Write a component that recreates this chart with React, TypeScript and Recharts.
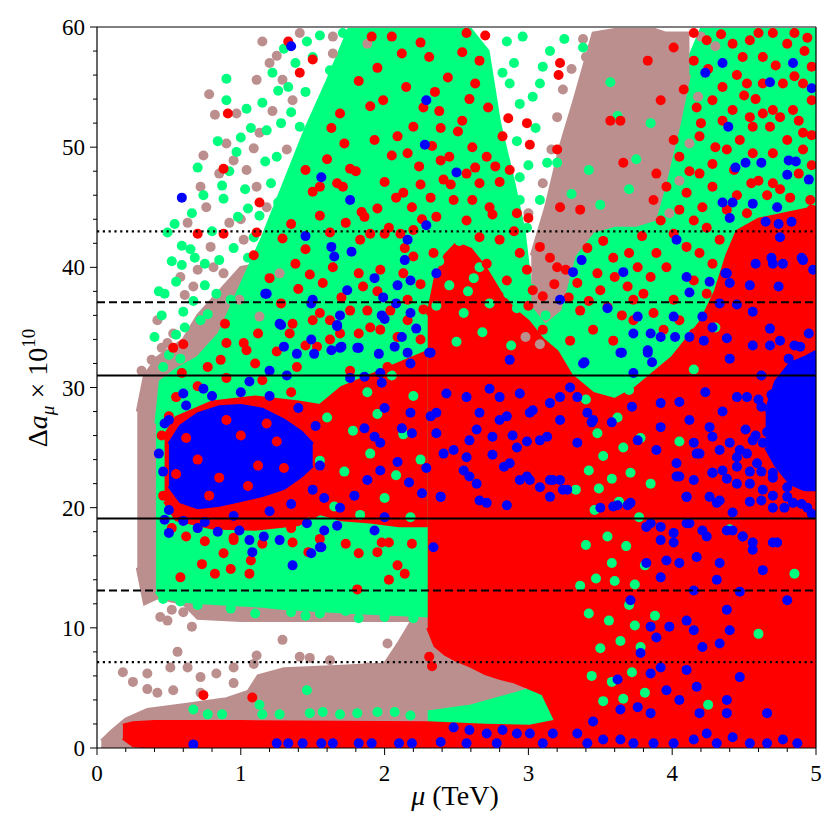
import React from 'react';
import { ComposedChart, Area, Scatter, XAxis, YAxis, ReferenceLine, Label } from 'recharts';

const BROWN = '#bc8f8f';
const GREEN = '#00ff7f';
const RED = '#ff0000';
const BLUE = '#0000ff';
const FONT = "'Liberation Serif', 'DejaVu Serif', serif";

const xTicks = [0, 0.2, 0.4, 0.6, 0.8, 1, 1.2, 1.4, 1.6, 1.8, 2, 2.2, 2.4, 2.6, 2.8, 3, 3.2, 3.4, 3.6, 3.8, 4, 4.2, 4.4, 4.6, 4.8, 5];
const yTicks = [0, 2, 4, 6, 8, 10, 12, 14, 16, 18, 20, 22, 24, 26, 28, 30, 32, 34, 36, 38, 40, 42, 44, 46, 48, 50, 52, 54, 56, 58, 60];

// measured band of Delta a_mu: 1, 2 and 3 sigma
const solidLevels = [31.0, 19.1];
const dashedLevels = [37.1, 13.1];
const dottedLevels = [43.0, 7.15];

// dense regions: [mu, low, high]
const brownLow = [[0.03, 0, 0.6], [0.1, 0, 1.4], [0.2, 0, 2.4], [0.35, 0, 3.2], [0.6, 0, 3.6], [0.9, 0, 4.1], [1.05, 0, 4.7], [1.12, 0, 6.0], [1.3, 0, 6.6], [1.7, 0, 6.8], [2.0, 0, 7.0], [2.1, 0, 8.8], [2.2, 0, 10.8], [2.3, 0, 12], [2.45, 0, 11], [2.6, 0, 8.5], [2.8, 0, 6.5], [3.0, 0, 4.6], [3.2, 0, 2.2]];
const brownLeft = [[0.28, 15, 28], [0.33, 12, 31], [0.42, 12.5, 32.5], [0.6, 12, 34], [0.7, 10.8, 36], [1.0, 10.6, 40], [2.0, 10.6, 42], [2.3, 10.6, 40]];
const brownTop = [[3.02, 37, 41], [3.12, 35.5, 45], [3.22, 36.5, 50], [3.32, 41, 54], [3.45, 43, 59.5], [3.6, 43.5, 59.8], [3.75, 43.5, 59.8], [3.88, 44, 59.8], [3.95, 47, 59.5], [4.05, 52, 59.5], [4.12, 56, 59.5]];
const greenMain = [[0.41, 13, 27], [0.44, 12.6, 30.5], [0.55, 12.3, 31.5], [0.7, 12.1, 32.5], [0.85, 12, 34.5], [1.0, 11.9, 38.5], [1.15, 11.8, 42.5], [1.3, 11.6, 47], [1.45, 11.5, 51.5], [1.6, 11.4, 55.5], [1.75, 11.3, 59.8], [2.3, 11, 59.8], [2.45, 30, 59.8], [2.6, 30, 59.8], [2.72, 30, 58], [2.8, 30, 52], [2.9, 30, 47], [2.97, 30, 43], [3.02, 30, 38]];
const greenLowMid = [[2.3, 1.5, 3], [2.6, 1.5, 3.5], [2.9, 1.5, 4.5], [3.1, 1.5, 5.2], [3.3, 1.5, 5.5]];
const greenRight = [[3.0, 25, 38], [3.15, 4, 40], [3.3, 3.5, 42], [3.45, 3.5, 44], [3.6, 3.5, 45], [3.75, 4, 45], [3.88, 5, 46], [3.95, 6, 49], [4.05, 10, 54], [4.12, 14, 57.5], [4.2, 18, 59.8], [5.0, 25, 59.8]];
const redLow = [[0.18, 0.8, 1.9], [0.25, 0.2, 2.1], [0.4, 0, 2.2], [1.0, 0, 2.2], [2.3, 0, 2.1], [2.7, 0, 1.9], [3.0, 0, 1.8], [3.3, 0, 2.5], [3.6, 0, 3.0], [3.85, 0, 4]];
const redMain = [[2.3, 10, 36], [2.35, 8.5, 39], [2.42, 7.8, 41], [2.5, 7.3, 42], [2.6, 6.8, 41.5], [2.7, 6.2, 40], [2.8, 5.8, 38], [2.9, 5.5, 36.5], [3.0, 5, 35.5], [3.1, 4.5, 34], [3.2, 2, 33], [3.3, 0, 31], [3.45, 0, 29.5], [3.6, 0, 29], [3.75, 0, 30], [3.85, 0, 31], [4.0, 0, 32.5], [4.1, 0, 34], [4.2, 0, 35.5], [4.3, 0, 38], [4.38, 0, 41], [4.45, 0, 43], [4.6, 0, 44], [4.8, 0, 44.5], [5.0, 0, 45]];
const redLeft = [[0.47, 20.5, 26], [0.55, 19, 27.5], [0.8, 18.3, 28.8], [1.1, 18.2, 29.2], [1.4, 18.6, 28.8], [1.55, 19.5, 28.5], [1.7, 19, 30], [1.9, 18.8, 31], [2.1, 18.5, 32], [2.3, 18.5, 33]];
const blueLeft = [[0.5, 21.8, 25.3], [0.58, 20.5, 26.8], [0.7, 20, 27.8], [0.85, 20.2, 28.4], [1.0, 20.6, 28.5], [1.15, 21, 28.2], [1.3, 21.6, 27.3], [1.42, 22.6, 26.3], [1.5, 23.5, 25.3]];
const blueRight = [[4.65, 25, 28], [4.72, 23.5, 30.5], [4.82, 22, 32], [4.92, 21.5, 32.5], [5.0, 21.5, 33]];

// individual points: [mu, delta a_mu]
const brownPoints = [[0.82, 52.7], [0.97, 52.8], [0.74, 49.3], [0.95, 48.9], [1.04, 48.1], [0.72, 46.7], [0.76, 45], [0.92, 43.7], [0.63, 43.7], [0.79, 41.7], [0.81, 40], [0.88, 39.5], [0.67, 38.4], [0.61, 37.7], [0.42, 35.6], [0.53, 34.5], [0.49, 33.7], [0.38, 32.3], [0.31, 31.4], [1.11, 46.7], [1.18, 45], [1.09, 49.9], [1.13, 51.2], [1.2, 57], [1.11, 55.6], [1.29, 55.6], [1.36, 53.9], [1.41, 59.5], [1.64, 57.8], [1.64, 59.2], [1.88, 58.6], [1.27, 39.5], [0.99, 37.3], [1.13, 35.9], [0.44, 10.9], [0.49, 10.6], [0.66, 10.1], [0.56, 8.0], [1.29, 9.0], [1.11, 7.7], [2.02, 8.7], [2.11, 8.4], [0.18, 6.3], [0.25, 5.5], [0.35, 6.2], [0.51, 6.7], [0.63, 6.7], [0.72, 5.9], [0.83, 6.2], [0.95, 5.4], [0.42, 4.6], [0.53, 4.8], [0.72, 4.6], [0.35, 4.9], [1.41, 7.6], [1.48, 7.5], [1.62, 7.3], [1.88, 6.7], [0.95, 6.7], [1.09, 7.0], [0.52, 11.5], [0.6, 11.3], [3.0, 44.5], [3.1, 47], [3.2, 52.5], [3.3, 56.5], [3.38, 59], [2.98, 34.2], [3.08, 33.6], [4.2, 59.2], [4.3, 58.4], [3.98, 44.5], [4.05, 47.2], [4.12, 50.3], [4.18, 54.2], [3.24, 54.8], [3.16, 49.8], [0.9, 50.3], [1.0, 44.0], [0.85, 47.8], [1.02, 42.3], [0.7, 39.8], [0.58, 39.2], [0.45, 33.3], [1.15, 58.8], [1.25, 57.6], [1.32, 49.8], [1.22, 53.0], [0.78, 54.4], [3.28, 50.8], [3.35, 53.0], [3.15, 42.5], [3.4, 57.5]];
const greenPoints = [[0.49, 42.9], [0.54, 43.6], [0.66, 44.5], [0.74, 46.0], [0.87, 46.8], [0.88, 45.7], [0.97, 49.6], [1.18, 51.4], [1.25, 49.2], [1.35, 52.9], [1.26, 54.7], [1.33, 55.0], [1.41, 51.7], [0.9, 55.7], [0.9, 53.9], [1.04, 53.2], [0.59, 41.8], [0.59, 40.2], [0.68, 40.8], [0.75, 40.3], [0.75, 38.5], [0.55, 38.8], [0.43, 38.0], [0.47, 37.8], [0.6, 36.3], [0.67, 37.2], [0.72, 35.6], [0.77, 36.1], [0.61, 35.0], [0.55, 34.4], [0.5, 32.7], [0.58, 32.4], [0.46, 31.7], [0.83, 37.8], [0.93, 37.3], [0.99, 35.6], [0.93, 34.5], [1.02, 34.5], [1.09, 38.4], [1.05, 40.8], [1.09, 42.5], [1.13, 44.3], [1.21, 47.0], [1.26, 45.4], [1.62, 56.4], [1.71, 59.5], [1.5, 57.5], [2.82, 56.2], [2.87, 55.3], [3.03, 54.2], [2.94, 53.6], [2.96, 59.2], [3.1, 56.7], [3.38, 58.3], [3.08, 55.3], [3.13, 48.7], [3.2, 48.7], [2.92, 50.5], [2.87, 45.0], [2.94, 45.6], [2.99, 43.3], [2.94, 47.5], [3.08, 45.6], [0.67, 3.2], [0.77, 2.8], [1.13, 3.6], [1.15, 2.8], [1.27, 2.8], [1.46, 4.8], [1.48, 2.9], [1.57, 3.0], [1.69, 2.8], [1.81, 2.9], [1.95, 3.0], [2.07, 3.0], [2.18, 2.7], [0.87, 2.8], [0.46, 12.4], [0.58, 12.2], [0.7, 11.9], [0.93, 11.6], [1.1, 11.2], [1.35, 11.3], [1.45, 11.0], [1.55, 11.2], [1.73, 11.4], [1.82, 10.8], [2.0, 10.9], [2.2, 10.8], [3.5, 45.2], [3.42, 48.1], [3.62, 52.6], [3.3, 46.1], [3.75, 49.0], [3.57, 55.4], [3.7, 46.5], [3.85, 52.0], [0.98, 44.2], [1.03, 46.5], [1.07, 51.6], [1.15, 53.7], [1.22, 56.2], [1.3, 58.2], [1.38, 57.0], [1.45, 54.6], [1.05, 44.9], [0.95, 41.6], [0.85, 40.6], [0.8, 43.0], [0.92, 48.0], [1.17, 48.8], [1.0, 50.8], [1.28, 52.0], [0.84, 50.5], [1.46, 58.8], [1.55, 59.3], [0.7, 48.3], [0.65, 41.5], [0.52, 40.5], [0.45, 36.0], [0.4, 34.2], [2.85, 58.8], [2.9, 57.0], [3.0, 48.5], [3.05, 51.6], [3.15, 58.0], [3.25, 59.0]];
const greenGaps = [[3.4, 29.0], [3.55, 31.5], [3.7, 29.8], [3.48, 26.2], [3.62, 27.5], [3.78, 25.8], [3.42, 23.1], [3.58, 22.4], [3.52, 24.3], [3.71, 22.9], [3.46, 19.8], [3.63, 20.5], [3.77, 19.2], [3.4, 16.9], [3.55, 17.6], [3.68, 16.8], [3.81, 15.2], [3.47, 14.1], [3.6, 13.9], [3.74, 13.6], [3.42, 11.2], [3.56, 10.6], [3.7, 11.9], [3.64, 8.9], [3.5, 8.3], [3.78, 8.4], [3.44, 6.0], [3.58, 5.5], [3.72, 6.3], [3.52, 3.9], [3.66, 4.1], [3.81, 4.6], [3.33, 21.5], [3.36, 13.5], [3.85, 22.0], [3.88, 11.0], [3.58, 15.4], [3.66, 25.0], [3.49, 21.6], [3.74, 10.2], [2.36, 36.8], [2.45, 38.5], [2.55, 36.2], [2.62, 39.1], [2.73, 37.0], [2.84, 39.4], [2.92, 36.6], [3.02, 38.2], [3.12, 36.0], [2.5, 33.8], [2.68, 34.6], [2.88, 33.5], [3.2, 33.8], [2.38, 40.5], [2.52, 42.2], [2.66, 40.0], [2.8, 41.2], [2.58, 38.0], [2.43, 43.8], [2.7, 43.0], [2.86, 37.8], [1.52, 30.5], [1.7, 31.2], [1.88, 29.6], [2.05, 31.0], [2.2, 29.3], [1.6, 27.5], [1.78, 26.4], [1.95, 27.8], [2.13, 26.1], [1.55, 23.9], [1.72, 23.0], [1.9, 24.5], [2.08, 22.7], [2.25, 24.0], [1.65, 20.1], [1.83, 19.4], [2.0, 20.8], [2.18, 19.2], [1.5, 19.0], [4.05, 25.5], [4.4, 18.2], [4.6, 9.5], [4.25, 3.6], [4.85, 14.5], [4.15, 31.5], [4.3, 35.0]];
const redPoints = [[1.33, 58.8], [1.5, 57.3], [1.41, 56.2], [0.91, 52.8], [0.88, 48.2], [0.7, 42.8], [0.88, 42.8], [1.11, 42.9], [1.09, 41.0], [1.13, 45.4], [1.29, 42.4], [1.35, 43.6], [1.45, 48.1], [1.5, 46.3], [1.63, 51.6], [1.69, 52.8], [1.9, 53.4], [1.99, 53.9], [2.09, 50.9], [2.12, 57.8], [1.91, 59.2], [2.16, 49.5], [1.76, 48.2], [1.8, 48.0], [1.67, 47.0], [1.71, 46.7], [1.55, 46.7], [2.0, 47.1], [2.13, 46.2], [2.19, 45.0], [1.84, 44.6], [1.86, 44.2], [2.03, 43.3], [2.11, 42.8], [2.2, 43.1], [2.0, 42.8], [2.14, 41.6], [1.83, 42.3], [1.9, 42.8], [2.2, 40.9], [1.48, 39.4], [1.64, 40.0], [1.82, 39.5], [1.97, 39.8], [2.13, 39.5], [1.57, 38.7], [1.85, 38.4], [1.2, 39.1], [2.16, 37.3], [2.04, 36.4], [1.88, 36.4], [1.76, 36.4], [1.55, 36.2], [1.5, 35.6], [1.62, 35.6], [1.36, 35.3], [2.16, 35.6], [1.69, 34.5], [1.82, 34.5], [1.97, 34.8], [2.09, 34.2], [1.34, 34.5], [1.53, 33.4], [1.02, 33.7], [1.04, 33.1], [0.9, 33.7], [0.53, 33.3], [0.6, 33.6], [1.12, 34.5], [0.86, 32.3], [1.39, 31.7], [1.76, 31.4], [2.02, 31.7], [2.19, 31.4], [0.77, 31.7], [0.59, 31.2], [0.89, 35.3], [1.55, 44.3], [1.62, 42.9], [1.73, 43.7], [1.95, 44.9], [2.08, 45.8], [2.25, 46.9], [2.26, 44.0], [2.24, 48.4], [2.05, 49.3], [1.93, 50.6], [2.2, 51.7], [2.27, 53.3], [2.15, 55.0], [1.82, 55.5], [1.95, 56.6], [2.25, 58.7], [2.05, 59.2], [1.72, 50.3], [1.6, 49.0], [1.45, 41.5], [1.38, 40.3], [1.7, 37.5], [1.95, 38.0], [2.25, 38.6], [2.27, 36.5], [2.25, 34.0], [1.9, 35.0], [1.62, 34.0], [1.45, 33.5], [1.25, 33.0], [1.1, 32.0], [1.28, 37.0], [1.4, 38.2], [2.57, 59.5], [2.7, 59.3], [3.22, 57.0], [3.21, 56.0], [2.54, 57.9], [2.66, 57.2], [2.35, 54.6], [2.59, 54.0], [2.72, 53.3], [2.86, 52.4], [2.54, 52.2], [2.39, 51.6], [2.51, 51.3], [2.61, 50.0], [2.71, 49.2], [2.82, 50.9], [2.99, 52.0], [3.01, 50.2], [2.45, 49.2], [2.39, 48.9], [2.41, 47.3], [2.57, 47.8], [2.66, 47.0], [2.8, 47.1], [2.87, 48.1], [2.32, 45.8], [2.48, 45.6], [2.61, 45.6], [2.73, 45.0], [2.92, 44.5], [3.0, 44.1], [2.36, 44.2], [2.57, 43.9], [2.66, 42.5], [2.8, 42.3], [2.94, 41.2], [3.08, 41.7], [3.15, 40.8], [3.41, 41.6], [3.59, 40.8], [3.76, 40.0], [2.34, 41.2], [2.71, 40.3], [2.85, 38.9], [2.99, 39.8], [3.03, 38.1], [3.2, 40.0], [3.34, 38.7], [3.5, 38.1], [3.69, 38.4], [3.85, 39.2], [3.96, 40.0], [3.36, 36.4], [3.55, 36.7], [3.73, 37.3], [3.87, 36.2], [4.01, 37.3], [2.94, 35.6], [3.1, 34.8], [3.29, 33.9], [3.45, 34.8], [3.59, 33.9], [3.73, 35.6], [3.94, 34.8], [4.05, 35.6], [4.15, 34.5], [4.24, 37.8], [4.15, 38.9], [4.28, 40.3], [4.19, 41.2], [4.1, 41.7], [4.01, 42.8], [3.89, 41.2], [4.24, 43.3], [4.33, 42.3], [4.15, 43.9], [4.05, 44.8], [3.92, 43.9], [3.87, 45.6], [3.96, 46.7], [4.1, 46.2], [4.21, 45.0], [4.28, 46.7], [4.19, 47.8], [4.05, 49.2], [3.89, 47.8], [4.01, 50.6], [4.19, 50.9], [4.38, 49.8], [4.47, 50.6], [4.56, 51.7], [4.68, 51.7], [4.8, 50.6], [4.91, 51.2], [4.91, 49.8], [4.7, 49.5], [4.56, 49.5], [4.84, 53.1], [4.7, 53.1], [4.54, 52.5], [4.42, 53.1], [4.28, 53.9], [4.17, 53.3], [4.52, 55.3], [4.63, 55.3], [4.77, 55.3], [4.91, 55.3], [4.49, 57.5], [4.63, 57.5], [4.8, 58.6], [4.94, 59.1], [4.7, 59.5], [4.54, 58.9], [4.42, 58.6], [4.24, 58.9], [4.15, 59.5], [4.01, 58.3], [3.92, 53.9], [3.83, 57.2], [3.64, 52.2], [3.57, 52.2], [3.66, 48.7], [3.36, 44.8], [3.22, 45.0], [3.2, 49.8], [4.96, 45.6], [4.97, 53.9], [4.97, 56.7], [4.6, 47.2], [4.75, 46.5], [4.88, 47.8], [4.45, 46.0], [4.25, 56.5], [4.35, 55.0], [4.45, 56.0], [4.58, 54.0], [4.72, 56.8], [4.85, 55.9], [4.92, 58.0], [4.88, 52.2], [4.75, 52.5], [4.63, 52.8], [4.5, 54.3], [4.35, 52.2], [4.3, 50.0], [4.43, 48.1], [4.55, 47.0], [4.7, 47.0], [4.82, 45.8], [4.66, 46.0], [4.52, 44.5], [4.38, 44.8], [4.28, 48.6], [4.12, 48.0], [4.2, 52.0], [4.08, 54.8], [4.15, 57.2], [4.34, 59.4], [4.6, 59.5], [4.85, 59.5], [4.97, 51.0], [4.97, 48.5], [4.97, 44.8], [3.1, 37.6], [3.0, 36.8], [3.18, 38.6], [3.26, 39.8], [3.28, 37.5], [3.42, 37.2], [3.48, 39.5], [3.6, 39.2], [3.65, 36.0], [3.8, 37.8], [3.7, 41.2], [3.52, 42.2], [3.79, 42.6], [2.9, 43.0], [2.75, 44.4], [2.77, 48.4], [2.33, 50.1], [2.63, 48.3], [2.46, 46.9], [2.38, 53.0], [2.63, 55.3], [2.44, 55.8], [2.31, 57.5], [0.73, 15.3], [0.82, 14.5], [0.58, 14.2], [0.88, 16.2], [0.93, 14.9], [1.06, 14.5], [1.07, 15.6], [0.95, 17.5], [1.36, 17.1], [1.47, 16.3], [1.55, 17.4], [1.73, 17.0], [1.82, 16.2], [1.95, 16.3], [2.03, 14.0], [1.81, 13.2], [2.09, 15.2], [2.19, 17.0], [1.98, 17.1], [2.03, 17.1], [2.14, 14.5], [0.46, 21], [0.45, 26], [0.5, 27.6], [0.52, 18.3], [0.62, 17.6], [0.75, 17.2], [0.95, 17.3], [1.15, 17.0], [1.35, 18.3], [1.5, 19.5], [1.55, 22], [1.58, 25.5], [1.5, 28], [1.35, 29.6], [1.15, 30.6], [0.9, 30.8], [0.7, 30.1], [0.55, 29.2], [0.74, 4.4], [1.08, 4.2], [2.33, 6.8], [2.31, 7.6]];
const redSpecks = [[0.7, 24], [0.85, 22.5], [1.0, 26], [1.12, 23.5], [0.62, 25.8], [0.9, 27.3], [1.25, 25.5], [0.78, 21], [1.05, 21.8], [1.3, 23.3], [0.55, 22.8], [1.18, 27.0]];
const bluePoints = [[2.36, 26.2], [2.48, 24.8], [2.64, 26.5], [2.8, 27.3], [2.92, 25.0], [3.01, 27.9], [3.13, 25.9], [3.22, 27.3], [3.34, 25.4], [3.45, 27.3], [2.59, 22.6], [2.83, 23.4], [2.99, 22.6], [2.66, 20.6], [2.39, 20.9], [3.17, 22.3], [3.24, 21.5], [3.71, 20.4], [3.59, 20.1], [3.89, 24.8], [4.03, 22.6], [4.17, 24.5], [4.28, 22.9], [4.47, 24.8], [4.54, 22.0], [4.63, 25.4], [4.1, 20.9], [4.33, 20.6], [4.45, 23.4], [4.7, 22.9], [4.8, 20.9], [4.91, 22.0], [3.82, 18.4], [3.92, 17.3], [4.01, 17.1], [4.1, 18.7], [4.24, 17.6], [4.42, 18.1], [4.49, 17.6], [4.56, 16.5], [4.73, 17.1], [3.96, 15.6], [3.82, 15.4], [4.05, 15.4], [4.17, 15.9], [4.33, 15.4], [4.63, 14.8], [3.92, 14.2], [4.31, 14.0], [4.47, 13.0], [4.15, 13.1], [4.8, 12.3], [3.71, 12.3], [4.38, 11.5], [3.85, 10.1], [3.98, 10.1], [4.1, 10.6], [4.15, 9.8], [4.21, 8.4], [4.33, 8.7], [4.4, 9.8], [3.89, 9.2], [3.78, 7.9], [3.85, 6.2], [3.92, 6.7], [4.1, 6.5], [4.17, 5.1], [3.96, 4.8], [4.05, 4.0], [3.62, 5.7], [3.64, 3.2], [3.76, 3.4], [3.85, 2.9], [4.38, 4.0], [4.47, 5.9], [4.38, 2.9], [4.66, 2.9], [4.19, 2.9], [3.45, 2.2], [3.34, 1.2], [3.41, 0.4], [3.52, 0.7], [3.64, 0.7], [3.73, 0.4], [3.87, 0.4], [4.01, 0.4], [4.15, 0.7], [4.24, 1.2], [4.31, 0.4], [4.42, 0.9], [4.54, 0.4], [4.66, 0.4], [4.77, 0.7], [4.87, 0.4], [2.48, 1.7], [2.59, 1.5], [2.71, 1.2], [2.82, 1.5], [2.92, 1.2], [3.01, 1.2], [2.39, 0.5], [2.57, 0.4], [2.78, 0.4], [3.1, 0.4], [3.17, 1.2], [0.67, 0.3], [1.25, 0.4], [1.33, 0.4], [1.43, 0.4], [1.56, 0.4], [1.64, 0.4], [1.82, 0.4], [1.91, 0.4], [2.1, 0.4], [2.19, 0.4], [3.92, 28.7], [4.05, 28.8], [4.12, 27.3], [4.23, 29.6], [4.35, 28.0], [4.45, 29.2], [4.52, 29.2], [4.62, 28.4], [4.69, 29.4], [4.26, 26.7], [4.28, 25.9], [4.4, 25.4], [4.51, 26.5], [4.56, 25.6], [4.66, 26.3], [4.15, 25.4], [4.19, 24.5], [4.33, 24.8], [4.45, 24.2], [4.52, 24.5], [4.59, 23.7], [4.7, 24.8], [4.03, 23.7], [4.05, 22.6], [4.15, 22.3], [4.28, 22.9], [4.35, 23.1], [4.38, 22.4], [4.45, 22.0], [4.54, 23.0], [4.63, 21.5], [4.7, 22.5], [4.8, 21.7], [4.1, 20.9], [4.26, 20.9], [4.31, 20.4], [4.42, 19.6], [4.54, 20.5], [4.62, 20.6], [4.7, 20.0], [4.84, 20.4], [4.94, 20.0], [3.92, 18.4], [4.01, 17.9], [4.12, 18.7], [4.21, 18.1], [4.38, 18.1], [4.49, 17.6], [4.56, 17.1], [4.7, 17.1], [3.85, 18.7], [2.57, 29.2], [2.73, 29.9], [2.8, 29.2], [2.66, 27.9], [2.85, 27.6], [2.94, 29.5], [3.03, 28.1], [3.15, 28.7], [3.22, 29.2], [3.29, 30.0], [3.34, 29.2], [2.59, 25.6], [2.75, 25.9], [2.89, 26.0], [2.99, 25.5], [3.08, 25.6], [2.57, 24.2], [2.75, 24.4], [2.87, 23.7], [2.55, 23.1], [2.64, 22.0], [2.71, 20.4], [2.85, 20.2], [2.94, 22.3], [3.01, 22.3], [3.08, 21.7], [3.15, 22.3], [3.22, 22.3], [3.27, 21.5], [3.15, 20.9], [3.5, 20.0], [3.62, 20.2], [3.69, 20.2], [3.76, 25.6], [3.92, 26.7], [3.58, 27.1], [3.44, 27.1], [3.72, 28.4], [3.41, 27.9], [2.87, 32.3], [3.31, 39.6], [3.22, 37.3], [3.55, 36.6], [3.66, 39.6], [3.76, 35.9], [3.73, 34.5], [3.85, 34.5], [3.92, 34.2], [3.83, 33.1], [3.86, 32.1], [4.02, 34.2], [4.1, 39.2], [4.12, 37.9], [4.26, 38.8], [4.4, 38.7], [4.38, 39.5], [4.54, 38.5], [4.7, 40.3], [4.77, 40.3], [4.91, 40.6], [4.74, 38.4], [4.56, 36.3], [4.45, 36.9], [4.33, 37.0], [4.01, 35.9], [4.21, 35.9], [4.28, 35.0], [4.12, 34.2], [4.22, 33.9], [4.38, 34.1], [4.68, 34.9], [4.75, 33.9], [4.89, 33.4], [4.56, 33.5], [4.4, 32.4], [4.81, 32.4], [3.38, 32.0], [3.65, 32.9], [3.73, 31.2], [0.59, 45.8], [1.45, 42.6], [1.63, 41.7], [1.65, 40.9], [1.18, 37.8], [1.49, 37.0], [1.74, 38.1], [1.93, 39.1], [2.09, 38.5], [2.16, 42.3], [2.14, 40.6], [1.77, 41.3], [1.99, 37.5], [2.08, 37.0], [1.28, 35.2], [1.67, 35.2], [1.49, 34.0], [2.0, 35.7], [2.18, 32.0], [1.3, 33.4], [1.39, 32.8], [1.51, 32.8], [1.7, 33.4], [1.81, 33.3], [1.56, 47.5], [1.76, 45.6], [1.35, 58.4], [1.97, 31.2], [2.29, 53.9], [2.28, 50.2], [2.5, 47.9], [2.29, 43.5], [2.36, 39.5], [3.37, 40.6], [2.32, 32.9], [3.39, 32.1], [3.64, 32.9], [3.83, 32.9], [4.03, 42.3], [4.35, 57.0], [4.23, 56.2], [4.68, 55.4], [4.84, 57.0], [4.97, 54.9], [4.39, 51.7], [4.51, 48.7], [4.62, 48.7], [4.81, 48.9], [4.86, 48.8], [4.95, 47.3], [4.8, 47.7], [4.44, 48.3], [4.35, 45.4], [4.42, 45.4], [4.56, 45.3], [4.4, 44.1], [4.65, 43.8], [4.73, 45.0], [4.74, 43.6], [4.83, 43.8], [4.75, 42.5], [4.69, 40.8], [4.9, 40.8], [4.58, 40.3], [4.37, 39.5], [4.98, 39.8], [1.17, 37.8], [1.27, 35.3], [1.5, 37.3], [1.69, 36.0], [1.67, 35.1], [1.98, 36.0], [2.18, 38.9], [2.22, 34.9], [2.12, 34.2], [2.18, 36.2], [1.63, 33.1], [1.69, 33.3], [1.82, 33.3], [1.96, 32.8], [2.07, 33.4], [2.16, 32.9], [2.31, 32.9], [1.76, 30.8], [1.86, 30.9], [1.32, 31.0], [1.2, 31.4], [0.74, 29.9], [1.06, 30.5], [0.6, 29.5], [1.98, 30.4], [2.0, 28.3], [2.18, 27.9], [2.36, 27.9], [2.43, 29.5], [1.86, 26.6], [1.93, 25.9], [1.97, 25.4], [2.12, 26.6], [2.19, 26.2], [2.32, 27.6], [2.41, 24.5], [2.09, 23.8], [2.29, 23.3], [1.97, 23.1], [1.88, 22.3], [1.79, 21.0], [1.69, 20.0], [1.58, 20.8], [2.0, 19.2], [2.17, 22.1], [2.26, 21.2], [2.39, 20.9], [1.93, 18.1], [1.58, 18.1], [1.67, 18.5], [1.46, 18.7], [1.27, 17.3], [1.16, 17.6], [1.06, 17.3], [0.99, 18.1], [0.84, 18.0], [0.7, 18.3], [0.5, 17.9], [0.47, 19.0], [0.43, 24.5], [0.47, 27.0], [1.55, 16.7], [2.34, 16.7], [1.36, 15.2], [1.49, 16.2], [1.56, 16.7], [1.08, 16.3], [0.46, 23], [0.5, 19.8], [0.6, 18.9], [0.75, 18.8], [0.95, 19.3], [1.2, 19.7], [1.35, 20.3], [1.5, 21.5], [1.55, 23.5], [1.52, 26.8], [1.4, 28.3], [1.2, 29.3], [1.0, 29.6], [0.8, 29.3], [0.62, 28.5], [0.5, 27.3], [4.6, 29], [4.62, 31], [4.68, 33.5], [4.58, 26], [4.62, 23], [4.7, 21], [4.78, 20], [4.9, 20.3], [4.97, 19.5], [4.95, 34.5], [4.85, 33.5]];

const bandData = (rows: number[][]) => rows.map(([x, lo, hi]) => ({ x, r: [lo, hi] }));
const pointData = (rows: number[][]) => rows.map(([x, y]) => ({ x, y }));

const dot = (color: string) => (p: any) => <circle cx={p.cx} cy={p.cy} r={5} fill={color} />;

const XTick = ({ x, y, payload }: any) => {
  const v = payload.value;
  const major = Math.abs(v - Math.round(v)) < 1e-6;
  return (
    <g>
      <line x1={x} x2={x} y1={y} y2={y + (major ? 7 : 4)} stroke="#000" strokeWidth={1} />
      {major && (
        <text x={x} y={y + 25} dy="0.35em" textAnchor="middle" fontSize={23} fontFamily={FONT} fill="#000">{Math.round(v)}</text>
      )}
    </g>
  );
};

const YTick = ({ x, y, payload }: any) => {
  const v = payload.value;
  const major = v % 10 === 0;
  return (
    <g>
      <line x1={x} x2={x - (major ? 7 : 4)} y1={y} y2={y} stroke="#000" strokeWidth={1} />
      {major && (
        <text x={x - 12} y={y} dy="0.35em" textAnchor="end" fontSize={23} fontFamily={FONT} fill="#000">{v}</text>
      )}
    </g>
  );
};

const band = (rows: number[][], color: string, key: string) => (
  <Area key={key} data={bandData(rows)} dataKey="r" type="linear" stroke={color} strokeWidth={3} fill={color} fillOpacity={1} dot={false} activeDot={false} isAnimationActive={false} />
);

const points = (rows: number[][], color: string, key: string) => (
  <Scatter key={key} data={pointData(rows)} shape={dot(color)} isAnimationActive={false} />
);

export default function App() {
  return (
    <ComposedChart width={824} height={824} margin={{ top: 19, right: 16, left: 0, bottom: 0 }}>
      <XAxis dataKey="x" type="number" domain={[0, 5]} ticks={xTicks} interval={0} allowDataOverflow tick={<XTick />} tickLine={false} tickSize={0} tickMargin={0} height={84} axisLine={{ stroke: '#000', strokeWidth: 1.2 }}>
        <Label content={() => (
          <text x={447} y={797} textAnchor="middle" fontSize={28} fontFamily={FONT} fill="#000">
            <tspan fontStyle="italic">μ</tspan> (TeV)
          </text>
        )} />
      </XAxis>
      <YAxis dataKey="y" type="number" domain={[0, 60]} ticks={yTicks} interval={0} allowDataOverflow tick={<YTick />} tickLine={false} tickSize={0} tickMargin={0} width={89} axisLine={{ stroke: '#000', strokeWidth: 1.2 }}>
        <Label content={() => (
          <text transform="translate(39,380) rotate(-90)" textAnchor="middle" fontSize={28} fontFamily={FONT} fill="#000">
            Δ<tspan fontStyle="italic">a</tspan><tspan fontStyle="italic" fontSize={19} dy={7}>μ</tspan><tspan dy={-7}> × 10</tspan><tspan fontSize={19} dy={-12}>10</tspan>
          </text>
        )} />
      </YAxis>

      {band(brownLow, BROWN, 'b1')}
      {band(brownLeft, BROWN, 'b2')}
      {band(greenMain, GREEN, 'g1')}
      {band(greenLowMid, GREEN, 'g2')}
      {band(greenRight, GREEN, 'g3')}
      {band(brownTop, BROWN, 'b3')}
      {points(brownPoints, BROWN, 'bp')}
      {points(greenPoints, GREEN, 'gp')}
      {band(redLow, RED, 'r1')}
      {band(redMain, RED, 'r2')}
      {band(redLeft, RED, 'r3')}
      {points(greenGaps, GREEN, 'gg')}
      {points(redPoints, RED, 'rp')}
      {band(blueLeft, BLUE, 'u1')}
      {band(blueRight, BLUE, 'u2')}
      {points(redSpecks, RED, 'rs')}
      {points(bluePoints, BLUE, 'up')}

      {solidLevels.map((v) => <ReferenceLine key={`s${v}`} y={v} stroke="#000" strokeWidth={2} zIndex={2000} />)}
      {dashedLevels.map((v) => <ReferenceLine key={`d${v}`} y={v} stroke="#000" strokeWidth={2} strokeDasharray="8 4" zIndex={2000} />)}
      {dottedLevels.map((v) => <ReferenceLine key={`o${v}`} y={v} stroke="#000" strokeWidth={2.2} strokeDasharray="2.2 3.6" zIndex={2000} />)}
      <ReferenceLine y={60} stroke="#000" strokeWidth={1.2} zIndex={2000} />
      <ReferenceLine x={5} stroke="#000" strokeWidth={1.2} zIndex={2000} />
    </ComposedChart>
  );
}
